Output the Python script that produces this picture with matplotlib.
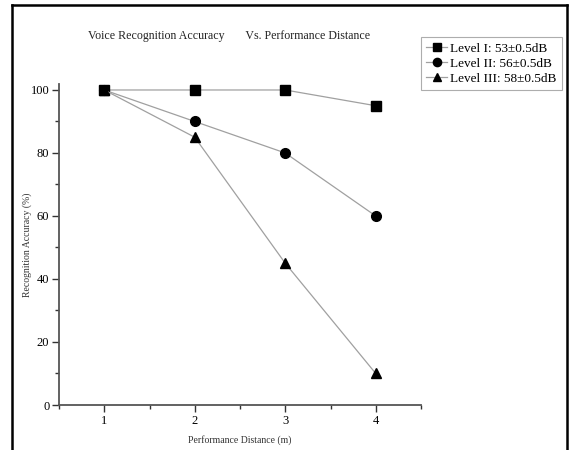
import matplotlib
matplotlib.use("Agg")
import matplotlib.pyplot as plt
from matplotlib.lines import Line2D
from matplotlib.ticker import MultipleLocator

distance = [1, 2, 3, 4]
level1 = [100, 100, 100, 95]
level2 = [100, 90, 80, 60]
level3 = [100, 85, 45, 10]
labels = ["Level I: 53\u00b10.5dB", "Level II: 56\u00b10.5dB", "Level III: 58\u00b10.5dB"]
xticks = [1, 2, 3, 4]
yticks = [0, 20, 40, 60, 80, 100]

plt.rcParams['font.family'] = ['Liberation Serif', 'DejaVu Serif']

fig = plt.figure(figsize=(5.7, 4.5), dpi=100)
ax = fig.add_axes([59/570, 1-405/450, (421-59)/570, (405-84)/450])

lc = '#a0a0a0'
for ys, m, lab in zip([level1, level2, level3], ['s', 'o', '^'], labels):
    ax.plot(distance, ys, color=lc, lw=0.9, marker=m, markersize=7,
            markerfacecolor='black', markeredgecolor='black', label=lab)

ax.set_xlim(0.5, 4.5)
ax.set_ylim(0, 101.9)
ax.set_xticks(xticks)
ax.set_yticks(yticks)
ax.xaxis.set_minor_locator(MultipleLocator(0.5))
ax.yaxis.set_minor_locator(MultipleLocator(10))
for s in ['top', 'right']:
    ax.spines[s].set_visible(False)
for s in ['left', 'bottom']:
    ax.spines[s].set_color('#555555')
    ax.spines[s].set_linewidth(1.3)
ax.tick_params(which='major', direction='out', length=5, width=1, color='#333333', labelsize=9, pad=2)
ax.tick_params(which='minor', direction='out', length=3, width=1, color='#333333')

ax.set_xlabel("Performance Distance (m)", fontsize=7, color='#333333', labelpad=6)
ax.set_ylabel("Recognition Accuracy (%)", fontsize=7, color='#333333', labelpad=-1)

fig.text(88/570, 1-36/450, "Voice Recognition Accuracy       Vs. Performance Distance",
         fontsize=8.6, va='center', ha='left', color='#222222')

leg = ax.legend(loc='upper left', bbox_to_anchor=(421/570, 1-37/450), bbox_transform=fig.transFigure,
                fontsize=9.5, frameon=True, fancybox=False, borderaxespad=0, markerscale=0.85,
                handlelength=1.6, handletextpad=0.2, labelspacing=0.22, borderpad=0.4)
leg.get_frame().set_edgecolor('#999999')
leg.get_frame().set_linewidth(0.8)

# outer frame
fw = 1.8
fig.add_artist(Line2D([12/570, 12/570], [0, 1-5/450], transform=fig.transFigure, color='black', lw=fw))
fig.add_artist(Line2D([12/570, 567/570], [1-5/450, 1-5/450], transform=fig.transFigure, color='black', lw=fw))
fig.add_artist(Line2D([567/570, 567/570], [0, 1-5/450], transform=fig.transFigure, color='black', lw=fw))

fig.savefig("out.png", dpi=100)
